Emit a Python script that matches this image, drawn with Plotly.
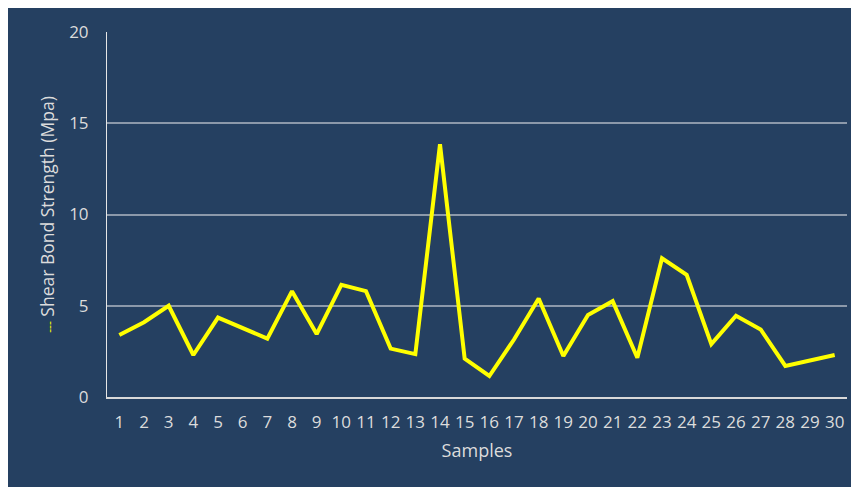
import plotly.graph_objects as go

samples = [str(i) for i in range(1, 31)]
strength = [3.4, 4.1, 5.0, 2.3, 4.35, 3.75, 3.2, 5.8, 3.45, 6.15,
            5.8, 2.65, 2.35, 13.85, 2.1, 1.15, 3.15, 5.4, 2.25, 4.5,
            5.25, 2.15, 7.6, 6.7, 2.9, 4.45, 3.7, 1.7, 2.0, 2.3]
y_ticks = [0, 5, 10, 15, 20]

NAVY = "#254061"
TXT = "#DCDCDC"
FONT = "Open Sans"

fig = go.Figure()
fig.add_trace(go.Scatter(
    x=samples, y=strength, mode="lines",
    line=dict(color="#FFFF00", width=4),
    showlegend=False, hoverinfo="x+y",
))

fig.update_layout(
    width=851, height=479,
    margin=dict(l=99, r=12, t=19, b=90),
    paper_bgcolor=NAVY,
    plot_bgcolor=NAVY,
    font=dict(family=FONT, color=TXT, size=17),
)
fig.update_xaxes(
    type="category", categoryorder="array", categoryarray=samples,
    showgrid=False, showline=True, linecolor="#D9D9D9", linewidth=1.5,
    ticks="", ticklabelstandoff=9,
    tickfont=dict(family=FONT, size=17, color=TXT),
    title=dict(text="Samples", font=dict(family=FONT, size=18, color=TXT), standoff=12),
    range=[-0.5, 29.5], fixedrange=True,
)
fig.update_yaxes(
    range=[0, 20], tickvals=y_ticks,
    showgrid=True, gridcolor="#8C99AA", gridwidth=1.5,
    showline=True, linecolor="#E6E6E6", linewidth=1,
    zeroline=False, ticks="", ticklabelstandoff=14,
    tickfont=dict(family=FONT, size=17, color=TXT),
    title=dict(text="<span style='color:#FFFF00;font-size:12px'>---</span> Shear Bond Strength (Mpa)",
               font=dict(family=FONT, size=17.5, color=TXT), standoff=10),
    fixedrange=True,
)

fig.write_html("out.html")
